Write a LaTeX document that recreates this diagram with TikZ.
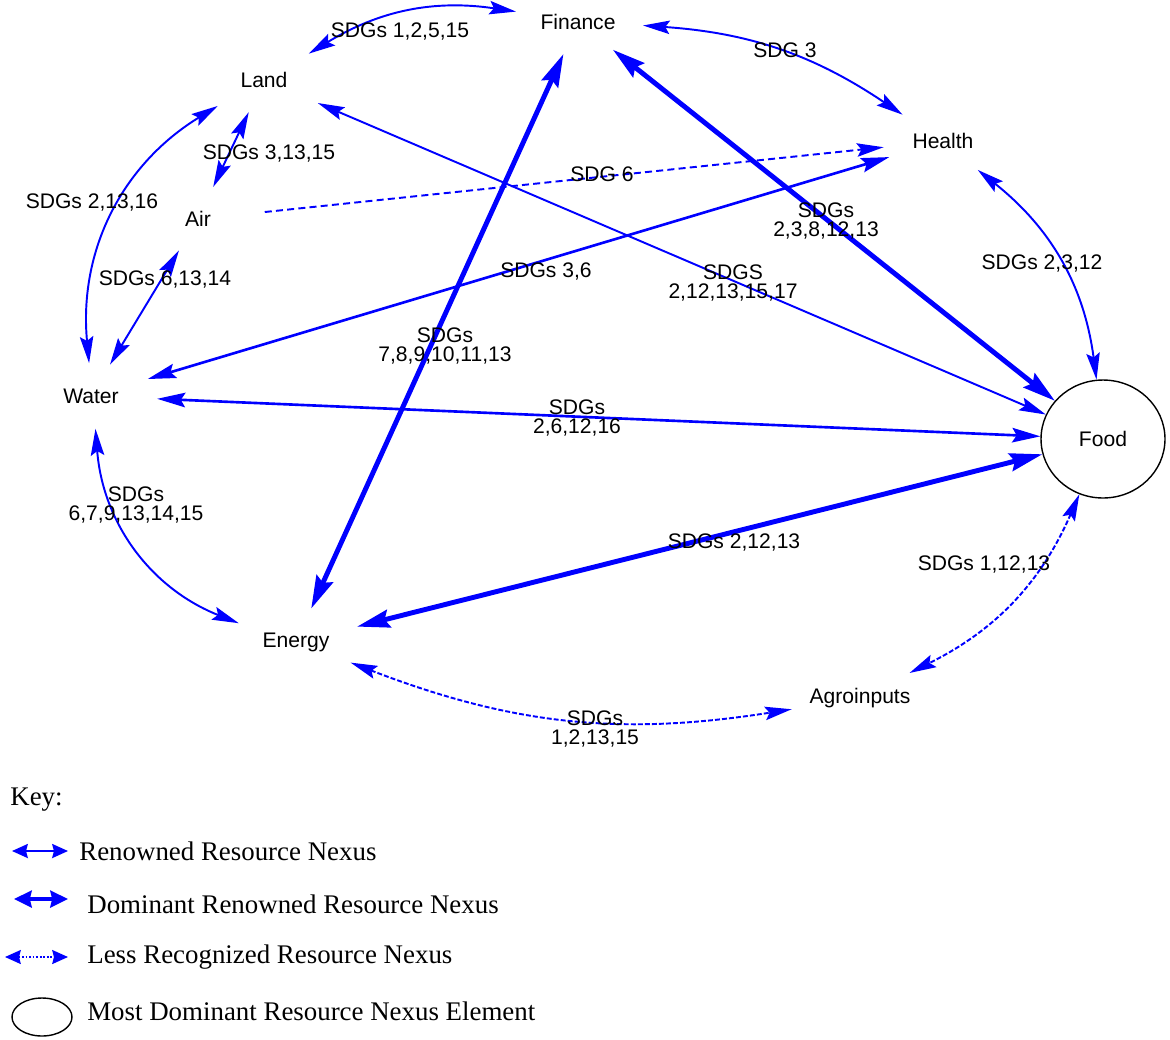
\documentclass[tikz,border=0pt]{standalone}
\usepackage{fontspec}
\setmainfont{Liberation Serif}
\newfontfamily\arialfont{Liberation Sans}
\usetikzlibrary{arrows.meta,shapes.geometric}
\definecolor{nexusblue}{RGB}{0,0,255}

\begin{document}
\begin{tikzpicture}[x=0.02cm, y=-0.02cm,
  >={Stealth[length=13pt 2, width=6pt 1.5, inset=2.5pt]},
  res/.style={ellipse, inner sep=0pt, minimum width=#1, minimum height=1.3cm,
    font=\arialfont\fontsize{12}{14}\selectfont},
  res/.default=2.7cm,
  sdg/.style={inner sep=0pt, align=center, font=\arialfont\fontsize{12}{10.8}\selectfont},
  renowned/.style={draw=nexusblue, line width=1.1pt, <->},
  medium/.style={draw=nexusblue, line width=1.5pt, <->},
  dominant/.style={draw=nexusblue, line width=2.8pt, <->},
  lesser/.style={draw=nexusblue, line width=1.1pt, dash pattern=on 4pt off 2.4pt},
  denser/.style={draw=nexusblue, line width=1.1pt, dash pattern=on 2.8pt off 1.2pt},
  keytext/.style={inner sep=0pt, anchor=west, font=\fontsize{15.3}{18}\selectfont}]
\useasboundingbox (0,0) rectangle (1170,1039);

% resource nexus elements
\node[res=2.6cm] (finance) at (578,22) {Finance};
\node[res=3.0cm] (land) at (264,80) {Land};
\node[res=2.4cm, minimum height=1.4cm] (health) at (943,141) {Health};
\node[res=2.72cm] (air) at (198,219) {Air};
\node[res=2.64cm] (water) at (91,396) {Water};
\node[res=2.72cm, minimum height=1.36cm] (energy) at (296,642) {Energy};
\node[res=2.88cm, minimum height=1.36cm] (agro) at (860,698) {Agroinputs};
\node[ellipse, draw, line width=0.8pt, inner sep=0pt, minimum width=2.48cm, minimum height=2.36cm,
  font=\arialfont\fontsize{12}{14}\selectfont] (food) at (1103,439) {Food};

% links
\draw[renowned] (land) to[bend left=20] (finance);
\draw[renowned] (finance) to[bend left=15] (health);
\draw[renowned] (land) -- (air);
\draw[renowned] (land) to[bend right=32] (water);
\draw[renowned] (air) -- (water);
\draw[lesser, ->] (air) -- (health);
\draw[medium] (water) -- (health);
\draw[renowned] (land) -- (food);
\draw[dominant] (finance) -- (food);
\draw[dominant] (finance) -- (energy);
\draw[medium] (water) -- (food);
\draw[renowned] (health) to[bend left=22] (food);
\draw[dominant] (energy) -- (food);
\draw[renowned] (water) to[bend right=32] (energy);
\draw[denser, <->] (food) to[bend left=20] (agro);
\draw[denser, <->] (energy) to[bend right=15] (agro);

% link labels
\node[sdg] (lblLFi) at (400,31) {SDGs 1,2,5,15};
\node[sdg] (lblFiH) at (785,50) {SDG 3};
\node[sdg] (lblLA) at (269,153) {SDGs 3,13,15};
\node[sdg] (lblLW) at (92,202) {SDGs 2,13,16};
\node[sdg] (lblAW) at (165,279) {SDGs 6,13,14};
\node[sdg] (lblAH) at (602,174) {SDG 6};
\node[sdg] (lblWH) at (546,271) {SDGs 3,6};
\node[sdg] (lblFiF) at (826,221) {SDGs\\2,3,8,12,13};
\node[sdg] (lblLF) at (733,283) {SDGS\\2,12,13,15,17};
\node[sdg] (lblFiE) at (445,346) {SDGs\\7,8,9,10,11,13};
\node[sdg] (lblWF) at (577,418) {SDGs\\2,6,12,16};
\node[sdg] (lblHF) at (1042,263) {SDGs 2,3,12};
\node[sdg] (lblEF) at (734,542) {SDGs 2,12,13};
\node[sdg] (lblWE) at (136,505) {SDGs\\6,7,9,13,14,15};
\node[sdg] (lblFA) at (984,564) {SDGs 1,12,13};
\node[sdg] (lblEA) at (595,729) {SDGs\\1,2,13,15};

% key
\node[keytext] (key) at (10,800) {Key:};
\coordinate (k1a) at (12,851); \coordinate (k1b) at (68,851);
\coordinate (k2a) at (14,899); \coordinate (k2b) at (68,899);
\coordinate (k3a) at (5,957); \coordinate (k3b) at (68,957);
\draw[renowned, >={Stealth[length=9pt, width=8pt, inset=1pt]}] (k1a) -- (k1b);
\draw[dominant, >={Stealth[length=10pt, width=9.5pt, inset=1pt]}] (k2a) -- (k2b);
\draw[draw=nexusblue, line width=0.8pt, dash pattern=on 1pt off 1pt, <->,
  >={Stealth[length=9pt, width=8pt, inset=1pt]}] (k3a) -- (k3b);
\node[ellipse, draw, line width=0.8pt, minimum width=1.2cm, minimum height=0.76cm] (k4) at (42,1017) {};
\node[keytext] (k1t) at (79,851) {Renowned Resource Nexus};
\node[keytext] (k2t) at (87,904) {Dominant Renowned Resource Nexus};
\node[keytext] (k3t) at (87,957) {Less Recognized Resource Nexus};
\node[keytext] (k4t) at (87,1011) {Most Dominant Resource Nexus Element};
\end{tikzpicture}
\end{document}
